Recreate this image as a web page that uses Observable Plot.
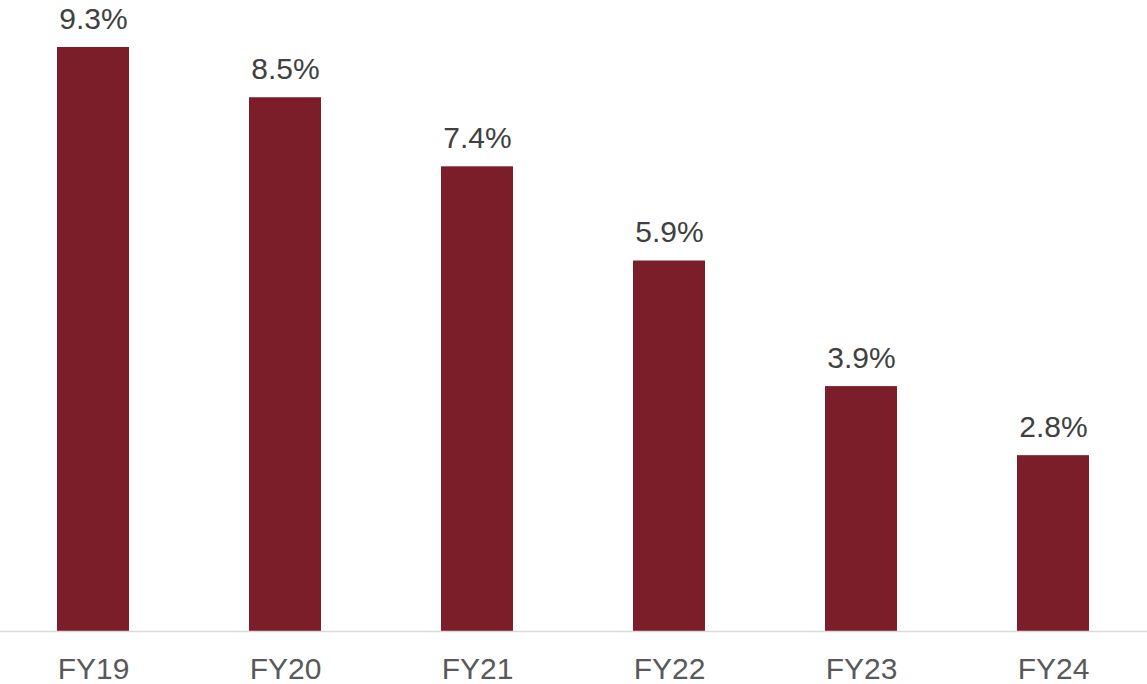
<!DOCTYPE html>
<html>
<head>
<meta charset="utf-8">
<script src="https://cdn.jsdelivr.net/npm/d3@7"></script>
<script src="https://cdn.jsdelivr.net/npm/@observablehq/plot@0.6"></script>
<style>
  html, body { margin: 0; padding: 0; background: #fff; }
  svg { display: block; }
</style>
</head>
<body>
<div id="chart"></div>
<script>
const years = ["FY19", "FY20", "FY21", "FY22", "FY23", "FY24"];
const values = [9.3, 8.5, 7.4, 5.9, 3.9, 2.8];
const labels = ["9.3%", "8.5%", "7.4%", "5.9%", "3.9%", "2.8%"];

const data = years.map((y, i) => ({year: y, value: values[i], label: labels[i]}));

const chart = Plot.plot({
  width: 1147,
  height: 684,
  marginTop: 47,
  marginBottom: 53,
  marginLeft: 0,
  marginRight: 0,
  style: {fontFamily: "'Liberation Sans', Arial, sans-serif", background: "#fff"},
  x: {domain: years, range: [-3, 1149], paddingInner: 0.625, paddingOuter: 0.3125, label: null},
  y: {domain: [0, 9.3], axis: null},
  marks: [
    Plot.barY(data, {x: "year", y: "value", fill: "#7b1e2a"}),
    Plot.ruleY([0], {stroke: "#d9d9d9", strokeWidth: 1.5}),
    Plot.text(data, {x: "year", y: "value", text: "label", dy: -19, lineAnchor: "bottom",
      fontSize: 30, fill: "#404040"}),
    Plot.axisX({tickSize: 0, tickPadding: 26, fontSize: 30, fill: "#595959", label: null})
  ]
});
document.getElementById("chart").appendChild(chart);
</script>
</body>
</html>
